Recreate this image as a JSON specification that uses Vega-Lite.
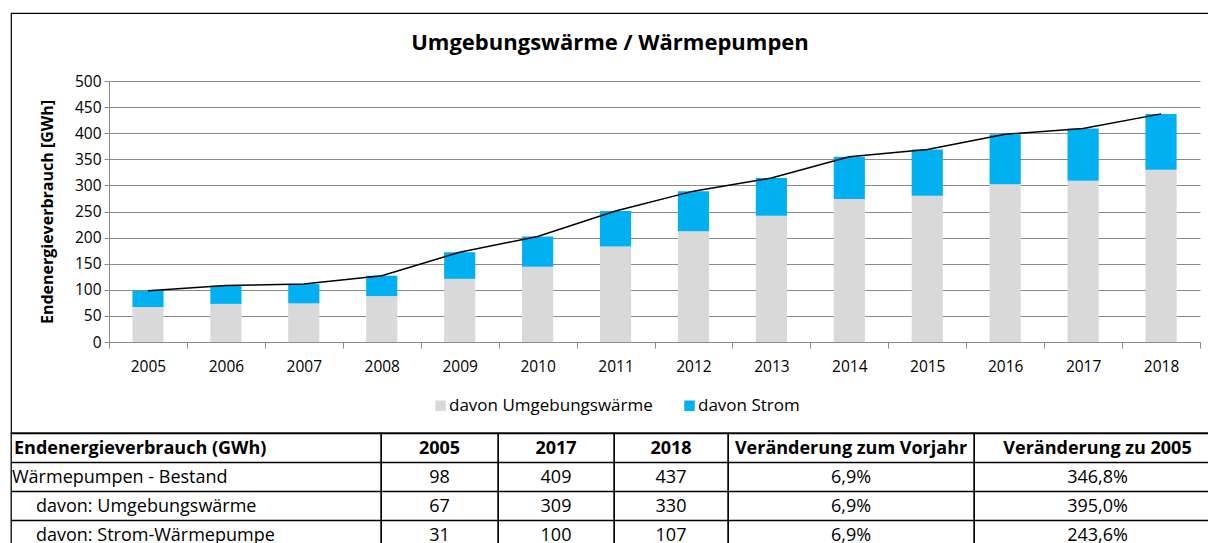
{
  "$schema": "https://vega.github.io/schema/vega-lite/v6.json",
  "padding": {"left": 10, "top": 12, "right": 0, "bottom": 0},
  "background": "white",
  "spacing": 0,
  "bounds": "flush",
  "config": {
    "font": "Open Sans",
    "view": {"stroke": "black", "strokeWidth": 1.2},
    "concat": {"spacing": 0},
    "text": {"color": "black"}
  },
  "datasets": {
    "chart": [
      {"year": "2005", "series": "davon Umgebungswärme", "value": 67}, {"year": "2005", "series": "davon Strom", "value": 31},
      {"year": "2006", "series": "davon Umgebungswärme", "value": 73}, {"year": "2006", "series": "davon Strom", "value": 35},
      {"year": "2007", "series": "davon Umgebungswärme", "value": 74}, {"year": "2007", "series": "davon Strom", "value": 37},
      {"year": "2008", "series": "davon Umgebungswärme", "value": 88}, {"year": "2008", "series": "davon Strom", "value": 39},
      {"year": "2009", "series": "davon Umgebungswärme", "value": 121}, {"year": "2009", "series": "davon Strom", "value": 51},
      {"year": "2010", "series": "davon Umgebungswärme", "value": 144}, {"year": "2010", "series": "davon Strom", "value": 58},
      {"year": "2011", "series": "davon Umgebungswärme", "value": 183}, {"year": "2011", "series": "davon Strom", "value": 68},
      {"year": "2012", "series": "davon Umgebungswärme", "value": 212}, {"year": "2012", "series": "davon Strom", "value": 77},
      {"year": "2013", "series": "davon Umgebungswärme", "value": 242}, {"year": "2013", "series": "davon Strom", "value": 72},
      {"year": "2014", "series": "davon Umgebungswärme", "value": 274}, {"year": "2014", "series": "davon Strom", "value": 81},
      {"year": "2015", "series": "davon Umgebungswärme", "value": 280}, {"year": "2015", "series": "davon Strom", "value": 89},
      {"year": "2016", "series": "davon Umgebungswärme", "value": 302}, {"year": "2016", "series": "davon Strom", "value": 96},
      {"year": "2017", "series": "davon Umgebungswärme", "value": 309}, {"year": "2017", "series": "davon Strom", "value": 100},
      {"year": "2018", "series": "davon Umgebungswärme", "value": 330}, {"year": "2018", "series": "davon Strom", "value": 107}
    ],
    "table": [
      {"r": 0, "c": 1, "t": "Endenergieverbrauch (GWh)"}, {"r": 0, "c": 2, "t": "2005"}, {"r": 0, "c": 3, "t": "2017"}, {"r": 0, "c": 4, "t": "2018"}, {"r": 0, "c": 5, "t": "Veränderung zum Vorjahr"}, {"r": 0, "c": 6, "t": "Veränderung zu 2005"},
      {"r": 1, "c": 1, "t": "Wärmepumpen - Bestand"}, {"r": 1, "c": 2, "t": "98"}, {"r": 1, "c": 3, "t": "409"}, {"r": 1, "c": 4, "t": "437"}, {"r": 1, "c": 5, "t": "6,9%"}, {"r": 1, "c": 6, "t": "346,8%"},
      {"r": 2, "c": 1, "t": "davon: Umgebungswärme"}, {"r": 2, "c": 2, "t": "67"}, {"r": 2, "c": 3, "t": "309"}, {"r": 2, "c": 4, "t": "330"}, {"r": 2, "c": 5, "t": "6,9%"}, {"r": 2, "c": 6, "t": "395,0%"},
      {"r": 3, "c": 1, "t": "davon: Strom-Wärmepumpe"}, {"r": 3, "c": 2, "t": "31"}, {"r": 3, "c": 3, "t": "100"}, {"r": 3, "c": 4, "t": "107"}, {"r": 3, "c": 5, "t": "6,9%"}, {"r": 3, "c": 6, "t": "243,6%"}
    ]
  },
  "vconcat": [
    {
      "width": 1198,
      "height": 420,
      "data": {"name": "chart"},
      "title": {"text": "Umgebungswärme / Wärmepumpen", "font": "Open Sans", "fontSize": 22, "fontWeight": "bold", "color": "black", "anchor": "middle", "baseline": "middle", "offset": -52},
      "encoding": {
        "x": {
          "field": "year", "type": "ordinal",
          "scale": {"type": "band", "range": [98, 1189], "paddingInner": 0, "paddingOuter": 0},
          "axis": {"title": null, "labelAngle": 0, "labelFontSize": 15.5, "labelColor": "black", "offset": -91, "tickBand": "extent", "domainColor": "#8a8a8a", "tickColor": "#8a8a8a", "tickSize": 6, "labelPadding": 11, "grid": false}
        }
      },
      "layer": [
        {
          "mark": {"type": "bar", "width": {"band": 0.4}},
          "encoding": {
            "y": {
              "field": "value", "type": "quantitative", "stack": "zero",
              "scale": {"domain": [0, 500], "range": [329, 68], "nice": false},
              "axis": {"title": "Endenergieverbrauch [GWh]", "titleFontSize": 16, "titleFontWeight": "bold", "titleColor": "black", "titlePadding": 19, "values": [0, 50, 100, 150, 200, 250, 300, 350, 400, 450, 500], "labelFontSize": 15.5, "labelColor": "black", "offset": -98, "grid": true, "gridColor": "#8a8a8a", "gridWidth": 1, "domainColor": "#8a8a8a", "tickColor": "#8a8a8a", "tickSize": 5, "labelPadding": 3}
            },
            "color": {
              "field": "series", "type": "nominal",
              "scale": {"domain": ["davon Umgebungswärme", "davon Strom"], "range": ["#D9D9D9", "#00B0F0"]},
              "legend": {"orient": "none", "legendX": 421, "legendY": 384, "direction": "horizontal", "title": null, "symbolType": "square", "symbolSize": 110, "symbolStrokeWidth": 0, "labelFontSize": 17, "labelColor": "black", "labelOffset": 0, "labelLimit": 400, "columnPadding": 28}
            },
            "order": {"field": "series", "sort": "descending"}
          }
        },
        {
          "mark": {"type": "line", "color": "black", "strokeWidth": 1.5},
          "encoding": {
            "y": {"aggregate": "sum", "field": "value", "type": "quantitative"}
          }
        }
      ]
    },
    {
      "bounds": "flush",
      "spacing": 0,
      "hconcat": [
        {
          "width": 370, "height": 111, "data": {"name": "table"},
          "view": {"stroke": "black", "strokeWidth": 1.3},
          "transform": [{"filter": "datum.c == 1"}],
          "encoding": {
            "x": {"field": "c", "type": "nominal", "bandPosition": 0, "scale": {"type": "band", "paddingInner": 0, "paddingOuter": 0}, "axis": null},
            "y": {"field": "r", "type": "ordinal", "scale": {"type": "band", "domain": [0, 1, 2, 3], "range": [0, 116], "paddingInner": 0, "paddingOuter": 0}, "axis": {"title": null, "labels": false, "ticks": false, "domain": false, "grid": true, "gridColor": "black", "gridWidth": 1.5, "tickBand": "extent"}},
            "text": {"field": "t"}
          },
          "layer": [
            {"transform": [{"filter": "datum.r == 0"}], "mark": {"type": "text", "align": "left", "dx": 3, "dy": 1, "fontSize": 18, "fontWeight": "bold"}},
            {"transform": [{"filter": "datum.r == 1"}], "mark": {"type": "text", "align": "left", "dx": 1, "dy": 1, "fontSize": 18}},
            {"transform": [{"filter": "datum.r >= 2"}], "mark": {"type": "text", "align": "left", "dx": 25, "dy": 1, "fontSize": 18}}
          ]
        },
        {
          "width": 117, "height": 111, "data": {"name": "table"},
          "view": {"stroke": "black", "strokeWidth": 1.3},
          "transform": [{"filter": "datum.c == 2"}],
          "encoding": {
            "x": {"field": "c", "type": "nominal", "scale": {"type": "band", "paddingInner": 0, "paddingOuter": 0}, "axis": null},
            "y": {"field": "r", "type": "ordinal", "scale": {"type": "band", "domain": [0, 1, 2, 3], "range": [0, 116], "paddingInner": 0, "paddingOuter": 0}, "axis": {"title": null, "labels": false, "ticks": false, "domain": false, "grid": true, "gridColor": "black", "gridWidth": 1.5, "tickBand": "extent"}},
            "text": {"field": "t"}
          },
          "layer": [
            {"transform": [{"filter": "datum.r == 0"}], "mark": {"type": "text", "dy": 1, "fontSize": 18, "fontWeight": "bold"}},
            {"transform": [{"filter": "datum.r > 0"}], "mark": {"type": "text", "dy": 1, "fontSize": 18}}
          ]
        },
        {
          "width": 116, "height": 111, "data": {"name": "table"},
          "view": {"stroke": "black", "strokeWidth": 1.3},
          "transform": [{"filter": "datum.c == 3"}],
          "encoding": {
            "x": {"field": "c", "type": "nominal", "scale": {"type": "band", "paddingInner": 0, "paddingOuter": 0}, "axis": null},
            "y": {"field": "r", "type": "ordinal", "scale": {"type": "band", "domain": [0, 1, 2, 3], "range": [0, 116], "paddingInner": 0, "paddingOuter": 0}, "axis": {"title": null, "labels": false, "ticks": false, "domain": false, "grid": true, "gridColor": "black", "gridWidth": 1.5, "tickBand": "extent"}},
            "text": {"field": "t"}
          },
          "layer": [
            {"transform": [{"filter": "datum.r == 0"}], "mark": {"type": "text", "dy": 1, "fontSize": 18, "fontWeight": "bold"}},
            {"transform": [{"filter": "datum.r > 0"}], "mark": {"type": "text", "dy": 1, "fontSize": 18}}
          ]
        },
        {
          "width": 114, "height": 111, "data": {"name": "table"},
          "view": {"stroke": "black", "strokeWidth": 1.3},
          "transform": [{"filter": "datum.c == 4"}],
          "encoding": {
            "x": {"field": "c", "type": "nominal", "scale": {"type": "band", "paddingInner": 0, "paddingOuter": 0}, "axis": null},
            "y": {"field": "r", "type": "ordinal", "scale": {"type": "band", "domain": [0, 1, 2, 3], "range": [0, 116], "paddingInner": 0, "paddingOuter": 0}, "axis": {"title": null, "labels": false, "ticks": false, "domain": false, "grid": true, "gridColor": "black", "gridWidth": 1.5, "tickBand": "extent"}},
            "text": {"field": "t"}
          },
          "layer": [
            {"transform": [{"filter": "datum.r == 0"}], "mark": {"type": "text", "dy": 1, "fontSize": 18, "fontWeight": "bold"}},
            {"transform": [{"filter": "datum.r > 0"}], "mark": {"type": "text", "dy": 1, "fontSize": 18}}
          ]
        },
        {
          "width": 246, "height": 111, "data": {"name": "table"},
          "view": {"stroke": "black", "strokeWidth": 1.3},
          "transform": [{"filter": "datum.c == 5"}],
          "encoding": {
            "x": {"field": "c", "type": "nominal", "scale": {"type": "band", "paddingInner": 0, "paddingOuter": 0}, "axis": null},
            "y": {"field": "r", "type": "ordinal", "scale": {"type": "band", "domain": [0, 1, 2, 3], "range": [0, 116], "paddingInner": 0, "paddingOuter": 0}, "axis": {"title": null, "labels": false, "ticks": false, "domain": false, "grid": true, "gridColor": "black", "gridWidth": 1.5, "tickBand": "extent"}},
            "text": {"field": "t"}
          },
          "layer": [
            {"transform": [{"filter": "datum.r == 0"}], "mark": {"type": "text", "dy": 1, "fontSize": 18, "fontWeight": "bold"}},
            {"transform": [{"filter": "datum.r > 0"}], "mark": {"type": "text", "dy": 1, "fontSize": 18}}
          ]
        },
        {
          "width": 235, "height": 111, "data": {"name": "table"},
          "view": {"stroke": "black", "strokeWidth": 1.3},
          "transform": [{"filter": "datum.c == 6"}],
          "encoding": {
            "x": {"field": "c", "type": "nominal", "scale": {"type": "band", "paddingInner": 0, "paddingOuter": 0}, "axis": null},
            "y": {"field": "r", "type": "ordinal", "scale": {"type": "band", "domain": [0, 1, 2, 3], "range": [0, 116], "paddingInner": 0, "paddingOuter": 0}, "axis": {"title": null, "labels": false, "ticks": false, "domain": false, "grid": true, "gridColor": "black", "gridWidth": 1.5, "tickBand": "extent"}},
            "text": {"field": "t"}
          },
          "layer": [
            {"transform": [{"filter": "datum.r == 0"}], "mark": {"type": "text", "dy": 1, "fontSize": 18, "fontWeight": "bold", "dx": 6}},
            {"transform": [{"filter": "datum.r > 0"}], "mark": {"type": "text", "dy": 1, "fontSize": 18, "dx": 6}}
          ]
        }
      ]
    }
  ]
}
